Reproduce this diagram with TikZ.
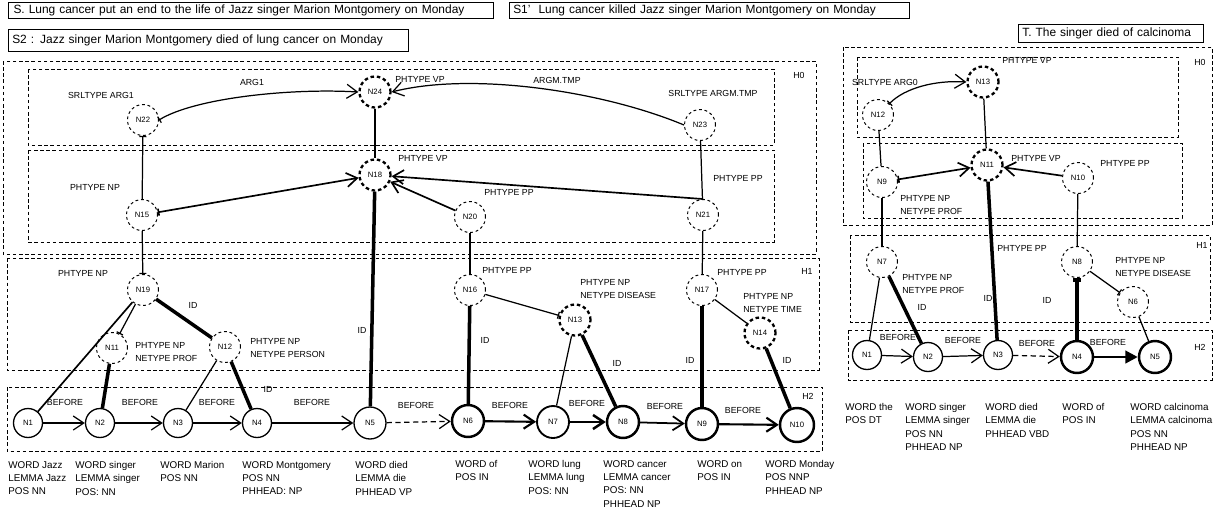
\documentclass[tikz,border=0pt]{standalone}
\usepackage{fontspec}
\setmainfont{Liberation Sans}
\usetikzlibrary{arrows.meta}
\begin{document}
\begin{tikzpicture}[x=0.02cm,y=-0.02cm,
  lbl/.style={font=\fontsize{5.0}{5.8}\selectfont, inner sep=0pt},
  lblw/.style={lbl, anchor=west},
  mlbl/.style={anchor=west, inner sep=0pt, align=left, font=\fontsize{5.0}{6.9}\selectfont},
  wlbl/.style={anchor=north west, inner sep=0pt, align=left, font=\fontsize{5.6}{7.6}\selectfont},
  hdr/.style={draw, line width=0.6pt, anchor=north west, align=left, inner sep=1.5pt, font=\fontsize{6.8}{7.5}\selectfont},
  dn/.style={circle, draw, line width=0.55pt, dash pattern=on 1.6pt off 1.6pt, minimum size=0.62cm, inner sep=0pt, font=\fontsize{4.4}{5}\selectfont},
  Dn/.style={dn, line width=1.3pt, dash pattern=on 2pt off 1.6pt},
  sn/.style={circle, draw, line width=0.75pt, minimum size=0.58cm, inner sep=0pt, font=\fontsize{4.4}{5}\selectfont},
  Sn/.style={sn, line width=1.4pt, minimum size=0.64cm},
  hbox/.style={draw, line width=0.55pt, dash pattern=on 2pt off 1.5pt},
  ln/.style={line width=0.7pt},
  mln/.style={line width=0.95pt},
  idl/.style={line width=2pt},
  barb/.style={-{Straight Barb[length=6pt,width=8pt]}},
  bbarb/.style={{Bar[width=4pt]}-{Straight Barb[length=6pt,width=8pt]}},
  tick/.style={-{Bar[width=4pt]}},
  stick/.style={{Bar[width=4pt]}-}
]
\useasboundingbox (0,0) rectangle (1218,512);

% ---------- headers ----------
\node[hdr, minimum width=9.7cm, minimum height=0.32cm, text width=9.5cm] (S) at (8,2) {S. Lung cancer put an end to the life of Jazz singer Marion Montgomery on Monday};
\node[hdr, minimum width=8.0cm, minimum height=0.30cm, text width=7.85cm] (S1) at (509,2) {S1'\ \ Lung cancer killed Jazz singer Marion Montgomery on Monday};
\node[hdr, minimum width=8.0cm, minimum height=0.44cm, text width=7.85cm] (S2) at (8,29) {S2 : Jazz singer Marion Montgomery died of lung cancer on Monday};
\node[hdr, minimum width=3.7cm, minimum height=0.36cm, text width=3.55cm] (T) at (1018,24) {T. The singer died of calcinoma};

% ---------- left panel boxes ----------
\draw[hbox] (3,61) rectangle (816,254);
\draw[hbox] (28,69) rectangle (774,145);
\draw[hbox] (28,150) rectangle (774,242);
\draw[hbox] (7,258) rectangle (819,370);
\draw[hbox] (7,387) rectangle (822,451);

% ---------- left panel nodes ----------
\node[dn] (LN22) at (143,120) {N22};
\node[Dn] (LN24) at (375,92) {N24};
\node[dn] (LN23) at (700,125) {N23};
\node[Dn] (LN18) at (375,175) {N18};
\node[dn] (LN15) at (142,215) {N15};
\node[dn] (LN20) at (470,217) {N20};
\node[dn] (LN21) at (703,215) {N21};
\node[dn] (LN19) at (143,290) {N19};
\node[dn] (LN11) at (112,348) {N11};
\node[dn] (LN12) at (225,347) {N12};
\node[dn] (LN16) at (470,290) {N16};
\node[Dn] (LN13) at (575,320) {N13};
\node[dn] (LN17) at (702,290) {N17};
\node[Dn] (LN14) at (760,333) {N14};

\node[sn] (LN1) at (28,423) {N1};
\node[sn] (LN2) at (100,423) {N2};
\node[sn] (LN3) at (178,423) {N3};
\node[sn] (LN4) at (257,423) {N4};
\node[sn, minimum size=0.64cm] (LN5) at (370,423) {N5};
\node[Sn] (LN6) at (468,421) {N6};
\node[sn, line width=1.05pt, minimum size=0.64cm] (LN7) at (553,422) {N7};
\node[Sn] (LN8) at (623,422) {N8};
\node[Sn] (LN9) at (702,424) {N9};
\node[Sn, minimum size=0.68cm] (LN10) at (797,425) {N10};

% ---------- left panel edges ----------
\draw[ln, bbarb] (LN22.east) .. controls (195,98) and (290,88) .. (LN24.west);
\draw[ln, barb] (LN23.west) .. controls (600,90) and (470,72) .. (LN24.east);
\draw[ln] (LN24) -- (LN18);
\draw[ln, stick] (LN22) -- (LN15);
\draw[ln] (LN23) -- (LN21);
\draw[mln, bbarb] (LN15) -- (LN18);
\draw[mln, barb] (LN20) -- (LN18);
\draw[mln, barb] (LN21.north) -- (LN18);
\draw[ln, tick] (LN15) -- (LN19);
\draw[ln] (LN20) -- (LN16);
\draw[ln] (LN21) -- (LN17);
\draw[mln] (LN19) -- (LN1);
\draw[ln, tick] (LN19) -- (LN11);
\draw[idl] (LN19) -- (LN12);
\draw[idl] (LN11) -- (LN2);
\draw[ln] (LN12) -- (LN3);
\draw[idl] (LN12) -- (LN4);
\draw[idl] (LN18) -- (LN5);
\draw[idl] (LN16) -- (LN6);
\draw[ln, tick] (LN16) -- (LN13);
\draw[ln] (LN13) -- (LN7);
\draw[idl] (LN13) -- (LN8);
\draw[idl] (LN17) -- (LN9);
\draw[ln] (LN17) -- (LN14);
\draw[idl] (LN14) -- (LN10);

\draw[ln, barb] (LN1) -- (LN2);
\draw[ln, barb] (LN2) -- (LN3);
\draw[ln, barb] (LN3) -- (LN4);
\draw[ln, barb] (LN4) -- (LN5);
\draw[ln, barb, densely dashed] (LN5) -- (LN6);
\draw[line width=1.2pt, barb] (LN6) -- (LN7);
\draw[line width=1.4pt, barb] (LN7) -- (LN8);
\draw[line width=1pt, barb] (LN8) -- (LN9);
\draw[line width=1.2pt, barb] (LN9) -- (LN10);

% ---------- left panel labels ----------
\node[lblw] at (395,79) {PHTYPE VP};
\node[lbl] at (252,82) {ARG1};
\node[lbl] at (101,95) {SRLTYPE ARG1};
\node[lbl] at (557,80) {ARGM.TMP};
\node[lbl] at (713,93) {SRLTYPE ARGM.TMP};
\node[lbl] at (799,75) {H0};
\node[lblw] at (398,158) {PHTYPE VP};
\node[lbl] at (95,187) {PHTYPE NP};
\node[lbl] at (509,192) {PHTYPE PP};
\node[lbl] at (738,178) {PHTYPE PP};
\node[lbl] at (83,273) {PHTYPE NP};
\node[lbl] at (193,305) {ID};
\node[mlbl] at (135,352) {PHTYPE NP\\NETYPE PROF};
\node[mlbl] at (250,348) {PHTYPE NP\\NETYPE PERSON};
\node[lbl] at (362,330) {ID};
\node[lbl] at (268,389) {ID};
\node[lbl] at (507,270) {PHTYPE PP};
\node[mlbl] at (580,289) {PHTYPE NP\\NETYPE DISEASE};
\node[lbl] at (485,340) {ID};
\node[lbl] at (617,363) {ID};
\node[lbl] at (742,272) {PHTYPE PP};
\node[lbl] at (807,271) {H1};
\node[mlbl] at (743,303) {PHTYPE NP\\NETYPE TIME};
\node[lbl] at (690,360) {ID};
\node[lbl] at (787,360) {ID};
\node[lbl] at (808,396) {H2};

\node[lbl] at (65,402) {BEFORE};
\node[lbl] at (140,402) {BEFORE};
\node[lbl] at (217,402) {BEFORE};
\node[lbl] at (312,402) {BEFORE};
\node[lbl] at (416,405) {BEFORE};
\node[lbl] at (510,405) {BEFORE};
\node[lbl] at (587,403) {BEFORE};
\node[lbl] at (665,406) {BEFORE};
\node[lbl] at (743,410) {BEFORE};

\node[wlbl] at (8,461) {WORD Jazz\\LEMMA Jazz\\POS NN};
\node[wlbl] at (75,461) {WORD singer\\LEMMA singer\\POS: NN};
\node[wlbl] at (160,461) {WORD Marion\\POS NN};
\node[wlbl] at (242,461) {WORD Montgomery\\POS NN\\PHHEAD: NP};
\node[wlbl] at (355,461) {WORD died\\LEMMA die\\PHHEAD VP};
\node[wlbl] at (455,460) {WORD of\\POS IN};
\node[wlbl] at (528,460) {WORD lung\\LEMMA lung\\POS: NN};
\node[wlbl] at (603,460) {WORD cancer\\LEMMA cancer\\POS: NN\\PHHEAD NP};
\node[wlbl] at (697,460) {WORD on\\POS IN};
\node[wlbl] at (765,460) {WORD Monday\\POS NNP\\PHHEAD NP};

% ---------- right panel boxes ----------
\draw[hbox] (843,47) rectangle (1212,225);
\draw[hbox] (857,57) rectangle (1178,137);
\draw[hbox] (863,143) rectangle (1182,218);
\draw[hbox] (850,235) rectangle (1210,322);
\draw[hbox] (848,330) rectangle (1212,380);

% ---------- right panel nodes ----------
\node[Dn] (RN13) at (983,82) {N13};
\node[dn] (RN12) at (878,115) {N12};
\node[Dn] (RN11) at (987,165) {N11};
\node[dn] (RN9) at (882,182) {N9};
\node[dn] (RN10) at (1078,178) {N10};
\node[dn] (RN7) at (882,262) {N7};
\node[dn] (RN8) at (1077,262) {N8};
\node[dn] (RN6) at (1133,302) {N6};
\node[sn] (RN1) at (867,355) {N1};
\node[sn] (RN2) at (928,357) {N2};
\node[sn] (RN3) at (998,355) {N3};
\node[Sn] (RN4) at (1077,357) {N4};
\node[Sn] (RN5) at (1155,357) {N5};

% ---------- right panel edges ----------
\draw[ln, bbarb] (RN12.north east) .. controls (905,88) and (935,80) .. (RN13.west);
\draw[ln] (RN13) -- (RN11);
\draw[ln] (RN12) -- (RN9);
\draw[mln, bbarb] (RN9) -- (RN11);
\draw[mln, barb] (RN10) -- (RN11);
\draw[idl] (RN11) -- (RN3);
\draw[ln] (RN9) -- (RN7);
\draw[ln] (RN10) -- (RN8);
\draw[ln] (RN7) -- (RN1);
\draw[idl] (RN7) -- (RN2);
\draw[idl, stick] (RN8) -- (RN4);
\draw[ln, tick] (RN8) -- (RN6);
\draw[ln] (RN6) -- (RN5);
\draw[ln, barb] (RN1) -- (RN2);
\draw[ln, barb] (RN2) -- (RN3);
\draw[ln, barb, densely dashed] (RN3) -- (RN4);
\draw[line width=1.6pt, -{Triangle[length=7pt,width=7pt]}] (RN4) -- (RN5);

% ---------- right panel labels ----------
\node[lbl] at (1200,62) {H0};
\node[lbl] at (1027,60) {PHTYPE VP};
\node[lbl] at (885,82) {SRLTYPE ARG0};
\node[lbl] at (1036,158) {PHTYPE VP};
\node[lbl] at (1125,163) {PHTYPE PP};
\node[mlbl] at (900,205) {PHTYPE NP\\NETYPE PROF};
\node[lbl] at (1202,245) {H1};
\node[mlbl] at (902,284) {PHTYPE NP\\NETYPE PROF};
\node[lbl] at (1022,248) {PHTYPE PP};
\node[mlbl] at (1115,267) {PHTYPE NP\\NETYPE DISEASE};
\node[lbl] at (922,307) {ID};
\node[lbl] at (988,298) {ID};
\node[lbl] at (1047,300) {ID};
\node[lbl] at (1200,347) {H2};
\node[lbl] at (898,337) {BEFORE};
\node[lbl] at (963,340) {BEFORE};
\node[lbl] at (1037,343) {BEFORE};
\node[lbl] at (1108,342) {BEFORE};

\node[wlbl] at (845,403) {WORD the\\POS DT};
\node[wlbl] at (905,403) {WORD singer\\LEMMA singer\\POS NN\\PHHEAD NP};
\node[wlbl] at (985,403) {WORD died\\LEMMA die\\PHHEAD VBD};
\node[wlbl] at (1062,403) {WORD of\\POS IN};
\node[wlbl] at (1130,403) {WORD calcinoma\\LEMMA calcinoma\\POS NN\\PHHEAD NP};
\end{tikzpicture}
\end{document}
